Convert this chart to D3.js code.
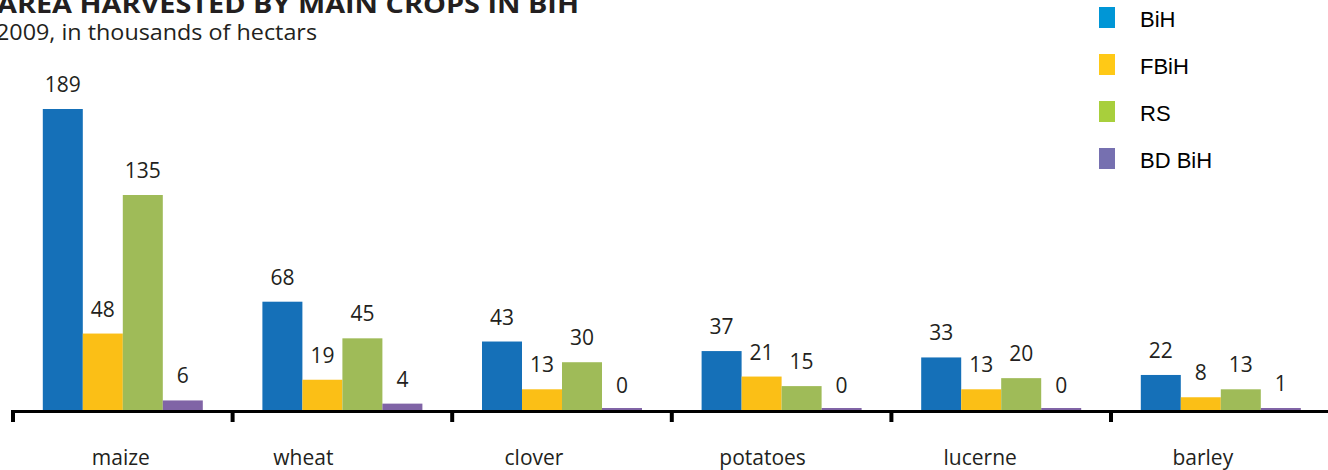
<!DOCTYPE html>
<html>
<head>
<meta charset="utf-8">
<script src="https://cdn.jsdelivr.net/npm/d3@7/dist/d3.min.js"></script>
<style>
  html, body { margin: 0; padding: 0; background: #fff; }
  svg { display: block; }
</style>
</head>
<body>
<svg id="chart" width="1328" height="470"></svg>
<script>
// Area harvested by main crops, 2009 (thousands of hectares)
const categories = ["maize", "wheat", "clover", "potatoes", "lucerne", "barley"];
const seriesNames = ["BiH", "FBiH", "RS", "BD BiH"];
const valuesBiH  = [189, 68, 43, 37, 33, 22];
const valuesFBiH = [48, 19, 13, 21, 13, 8];
const valuesRS   = [135, 45, 30, 15, 20, 13];
const valuesBD   = [6, 4, 0, 0, 0, 1];
const titleText = "AREA HARVESTED BY MAIN CROPS IN BIH";
const subtitleText = "2009, in thousands of hectars";

const seriesValues = [valuesBiH, valuesFBiH, valuesRS, valuesBD];
const barColors = ["#1570b8", "#fbbf16", "#9fbb58", "#8064a6"];
const legendColors = ["#0096d6", "#ffc916", "#a8cf3c", "#7670b0"];

const svg = d3.select("#chart");
const baseY = 410;
const bandW = 219.6;
const groupW = 160;

const x0 = d3.scaleBand().domain(categories).range([13, 13 + bandW * categories.length]).padding(0);
const x1 = d3.scaleBand().domain(seriesNames).range([0, groupW]).padding(0);
const y = d3.scaleLinear().domain([0, 189]).range([baseY, 109]);

const labelFont = "'Open Sans', 'Noto Sans', sans-serif";

// Title and subtitle
svg.append("text")
  .attr("x", -3).attr("y", 13)
  .attr("font-family", labelFont).attr("font-weight", 700)
  .attr("font-size", 25).attr("fill", "#231f20")
  .attr("textLength", 582).attr("lengthAdjust", "spacingAndGlyphs")
  .text(titleText);
svg.append("text")
  .attr("x", -4).attr("y", 40)
  .attr("font-family", labelFont)
  .attr("font-size", 22).attr("fill", "#231f20")
  .attr("textLength", 321).attr("lengthAdjust", "spacingAndGlyphs")
  .text(subtitleText);

// Bars
const groups = svg.append("g").selectAll("g")
  .data(categories)
  .join("g")
  .attr("transform", c => `translate(${x0(c) + (x0.bandwidth() - groupW) / 2},0)`);

groups.selectAll("rect")
  .data((c, i) => seriesNames.map((s, j) => ({ s, j, v: seriesValues[j][i] })))
  .join("rect")
  .attr("x", d => x1(d.s))
  .attr("width", x1.bandwidth())
  .attr("y", d => Math.min(y(d.v), baseY - 2))
  .attr("height", d => Math.max(baseY - y(d.v), 2))
  .attr("fill", d => barColors[d.j]);

// Value labels
groups.selectAll("text")
  .data((c, i) => seriesNames.map((s, j) => ({ s, j, v: seriesValues[j][i] })))
  .join("text")
  .attr("x", d => x1(d.s) + x1.bandwidth() / 2)
  .attr("y", d => y(d.v) - 17)
  .attr("text-anchor", "middle")
  .attr("font-family", labelFont)
  .attr("font-size", 21)
  .attr("fill", "#231f20")
  .text(d => d.v);

// Axis baseline with boundary ticks
svg.append("line")
  .attr("x1", 11).attr("x2", 1328)
  .attr("y1", baseY + 1.5).attr("y2", baseY + 1.5)
  .attr("stroke", "#000").attr("stroke-width", 3);

svg.append("g").selectAll("line")
  .data(categories)
  .join("line")
  .attr("x1", c => x0(c)).attr("x2", c => x0(c))
  .attr("y1", baseY).attr("y2", 422)
  .attr("stroke", "#000").attr("stroke-width", 4);

// Category labels (hand-placed shift from band centre)
const labelShift = [-2, -39, -28, -19, -21, -18];
svg.append("g").selectAll("text")
  .data(categories)
  .join("text")
  .attr("x", (c, i) => x0(c) + x0.bandwidth() / 2 + labelShift[i])
  .attr("y", 465)
  .attr("text-anchor", "middle")
  .attr("font-family", labelFont)
  .attr("font-size", 21)
  .attr("fill", "#231f20")
  .text(c => c);

// Legend
const ly = d3.scalePoint().domain(seriesNames).range([7, 148]);
const legend = svg.append("g").selectAll("g")
  .data(seriesNames)
  .join("g")
  .attr("transform", s => `translate(1099,${ly(s)})`);
legend.append("rect")
  .attr("width", 16).attr("height", 21)
  .attr("fill", (s, i) => legendColors[i]);
legend.append("text")
  .attr("x", 41).attr("y", 20)
  .attr("font-family", "'Liberation Sans', Arial, sans-serif")
  .attr("font-size", 22)
  .attr("fill", "#000")
  .text(s => s);
</script>
</body>
</html>
